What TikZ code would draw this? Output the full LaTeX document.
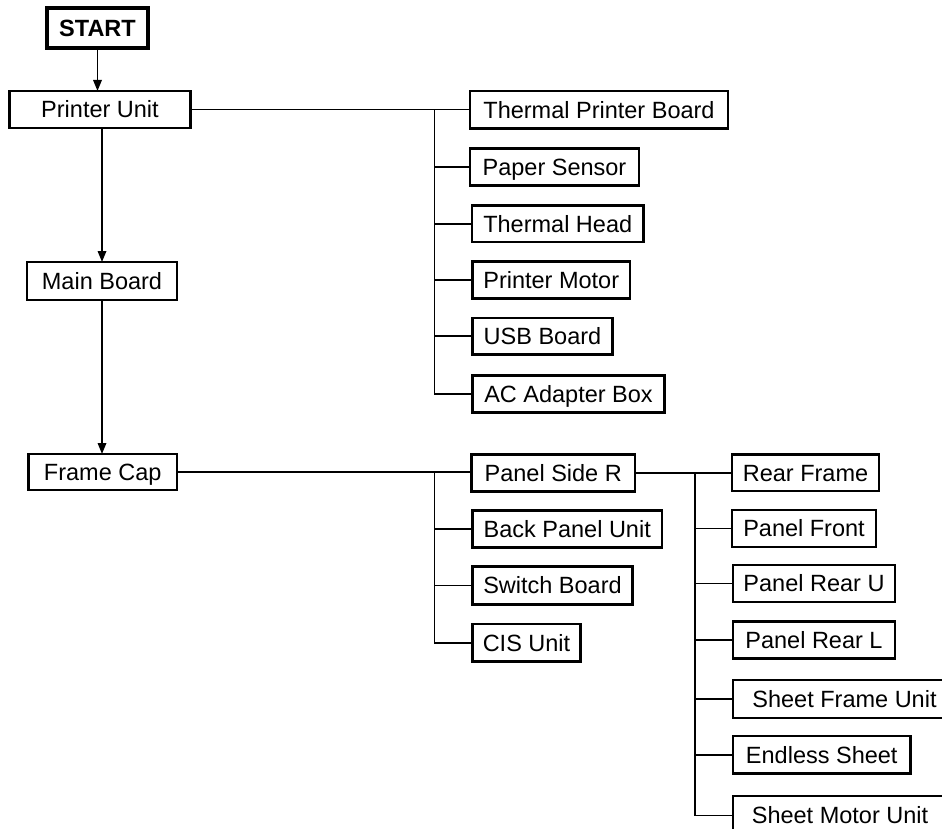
\documentclass[tikz,border=0pt]{standalone}
\usepackage{fontspec}
\setmainfont{Liberation Sans}
\usetikzlibrary{arrows.meta}
\begin{document}
\begin{tikzpicture}[x=1pt,y=-1pt,
  box/.style={draw,line width=2.4pt,anchor=north west,inner sep=0pt,outer sep=0pt,
    minimum height=37pt,text height=16.8pt,text depth=0pt,font=\fontsize{23.5}{26}\selectfont},
  startbox/.style={box,line width=3.6pt,font=\fontsize{23.5}{26}\selectfont\bfseries},
  conn/.style={line width=1.7pt},
  arr/.style={conn,-{Triangle[length=11pt,width=8.5pt]}}]
\useasboundingbox (0,0) rectangle (942,829);
\clip (0,0) rectangle (942,829);
% left column
\node[startbox,minimum width=101pt,minimum height=40pt] (start) at (47,8) {START};
\node[box,minimum width=181pt] (pu) at (9.5,91) {Printer Unit};
\node[box,minimum width=150pt,minimum height=38pt] (mb) at (27,262) {Main Board};
\node[box,minimum width=148.5pt,minimum height=36pt] (fc) at (28.5,454) {Frame Cap};
% printer unit branch
\node[box,minimum width=258pt,minimum height=37.5pt] (tpb) at (470,91) {Thermal Printer Board};
\node[box,minimum width=169pt] (ps) at (470,148.5) {Paper Sensor};
\node[box,minimum width=171.5pt,minimum height=36.5pt] (th) at (472,205.5) {Thermal Head};
\node[box,minimum width=157.5pt] (pm) at (472.5,261.5) {Printer Motor};
\node[box,minimum width=140pt,minimum height=36.5pt] (usb) at (472.5,318) {USB Board};
\node[box,minimum width=192pt] (ac) at (472.5,375.5) {AC Adapter Box};
% frame cap branch
\node[box,minimum width=163.5pt] (psr) at (471.5,454.5) {Panel Side R};
\node[box,minimum width=189.5pt] (bpu) at (472.5,510.5) {Back Panel Unit};
\node[box,minimum width=160pt,minimum height=38pt] (sb) at (472.5,566.5) {Switch Board};
\node[box,minimum width=108pt,minimum height=37.5pt] (cis) at (472.5,624) {CIS Unit};
% panel side R branch
\node[box,minimum width=147pt,minimum height=36.5pt] (rf) at (732,454.5) {Rear Frame};
\node[box,minimum width=144pt] (pf) at (732,510) {Panel Front};
\node[box,minimum width=162pt] (pru) at (733,565) {Panel Rear U};
\node[box,minimum width=162pt] (prl) at (733,621.5) {Panel Rear L};
\node[box,minimum width=223pt,minimum height=38pt] (sfu) at (733,680) {Sheet Frame Unit};
\node[box,minimum width=177.5pt,minimum height=37.5pt] (es) at (733,736) {Endless Sheet};
\node[box,minimum width=214pt,minimum height=39pt] (smu) at (733,796) {Sheet Motor Unit};
% arrows
\draw[arr] (start.south) -- (start.south |- pu.north);
\draw[arr] (pu.south -| mb.north) -- (mb.north);
\draw[arr] (mb.south) -- (mb.south |- fc.north);
% printer unit tree
\coordinate (t1) at (434.5,0);
\draw[conn] (pu.east) -- (pu.east -| tpb.west);
\draw[conn] (t1 |- pu.east) -- (t1 |- ac.west) -- (ac.west);
\foreach \n in {ps,th,pm,usb} \draw[conn] (t1 |- \n.west) -- (\n.west);
% frame cap tree
\draw[conn] (fc.east) -- (fc.east -| psr.west);
\draw[conn] (t1 |- fc.east) -- (t1 |- cis.west) -- (cis.west);
\foreach \n in {bpu,sb} \draw[conn] (t1 |- \n.west) -- (\n.west);
% panel side R tree
\coordinate (t2) at (695,0);
\draw[conn] (psr.east) -- (psr.east -| rf.west);
\draw[conn] (t2 |- psr.east) -- (t2 |- smu.west) -- (smu.west);
\foreach \n in {pf,pru,prl,sfu,es} \draw[conn] (t2 |- \n.west) -- (\n.west);
\end{tikzpicture}
\end{document}
